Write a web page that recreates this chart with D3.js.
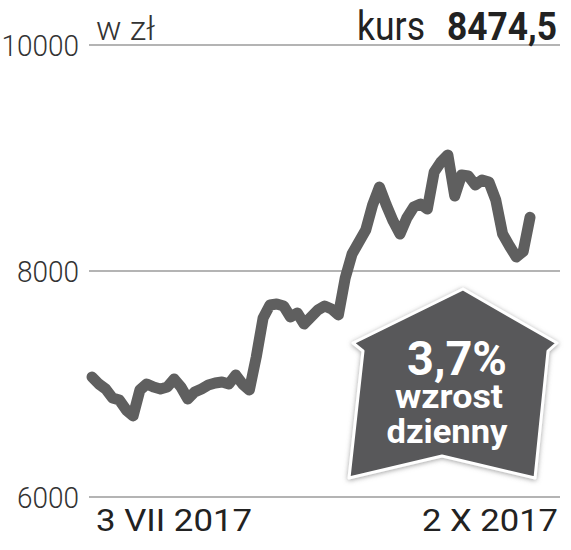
<!DOCTYPE html>
<html>
<head>
<meta charset="utf-8">
<script src="https://cdn.jsdelivr.net/npm/d3@7"></script>
<style>
  body { margin: 0; background: #fff; }
  svg { display: block; }
  text { font-family: Roboto, "Liberation Sans", sans-serif; }
</style>
</head>
<body>
<figure id="chart" style="margin:0"></figure>
<script>
// kurs, 3 VII 2017 - 2 X 2017 (sesje)
var values = [7062, 7000, 6956, 6876, 6858, 6770, 6717, 6947, 7000, 6973,
              6956, 6973, 7044, 6973, 6867, 6929, 6956, 6991, 7009, 7018,
              7000, 7080, 7000, 6947, 7239, 7584, 7699, 7708, 7690, 7593,
              7628, 7531, 7593, 7655, 7690, 7664, 7611, 7938, 8150, 8257,
              8363, 8584, 8743, 8584, 8442, 8327, 8469, 8566, 8593, 8549,
              8876, 8965, 9027, 8664, 8850, 8841, 8761, 8805, 8788, 8628,
              8327, 8221, 8124, 8172, 8474.5];
var yTicks = [6000, 8000, 10000];
var xLabels = ["3 VII 2017", "2 X 2017"];
var unitLabel = "w zł";
var lastLabel = "kurs";
var lastValue = "8474,5";
var badgeLines = ["3,7%", "wzrost", "dzienny"];

var w = 571, h = 550;

var svg = d3.select("#chart")
            .append("svg")
            .attr("width", w)
            .attr("height", h);

var x = d3.scaleLinear()
          .domain([0, values.length - 1])
          .range([92, 530]);

var y = d3.scaleLinear()
          .domain([6000, 10000])
          .range([497, 45]);

// gridlines
svg.append("g")
   .selectAll("line")
   .data(yTicks)
   .enter()
   .append("line")
     .attr("x1", 89)
     .attr("x2", 560)
     .attr("y1", d => y(d))
     .attr("y2", d => y(d))
     .attr("stroke", "#b4b4b4")
     .attr("stroke-width", 2);

// y tick labels
svg.append("g")
   .selectAll("text")
   .data(yTicks)
   .enter()
   .append("text")
     .attr("x", 79)
     .attr("y", d => y(d) + 11)
     .attr("text-anchor", "end")
     .attr("font-weight", 300)
     .attr("font-size", 30)
     .attr("textLength", d => String(d).length * 15.5)
     .attr("lengthAdjust", "spacingAndGlyphs")
     .attr("fill", "#333")
     .text(d => d);

// header
svg.append("text")
   .attr("x", 96).attr("y", 40)
   .attr("font-weight", 300)
   .attr("font-size", 33)
   .attr("textLength", 59)
   .attr("lengthAdjust", "spacingAndGlyphs")
   .attr("fill", "#333")
   .text(unitLabel);

svg.append("text")
   .attr("x", 357).attr("y", 40)
   .attr("font-size", 40)
   .attr("fill", "#222")
   .attr("textLength", 68)
   .attr("lengthAdjust", "spacingAndGlyphs")
   .text(lastLabel);

svg.append("text")
   .attr("x", 447).attr("y", 40)
   .attr("font-size", 38)
   .attr("font-weight", "bold")
   .attr("fill", "#222")
   .attr("textLength", 110)
   .attr("lengthAdjust", "spacingAndGlyphs")
   .text(lastValue);

// x labels
svg.append("text")
   .attr("x", 96).attr("y", 531)
   .attr("font-size", 32)
   .attr("fill", "#222")
   .attr("textLength", 156)
   .attr("lengthAdjust", "spacingAndGlyphs")
   .text(xLabels[0]);

svg.append("text")
   .attr("x", 558).attr("y", 531)
   .attr("text-anchor", "end")
   .attr("font-size", 32)
   .attr("fill", "#222")
   .attr("textLength", 136)
   .attr("lengthAdjust", "spacingAndGlyphs")
   .text(xLabels[1]);

// line
var line = d3.line()
             .x((d, i) => x(i))
             .y(d => y(d));

svg.append("path")
   .datum(values)
   .attr("d", line)
   .attr("fill", "none")
   .attr("stroke", "#5f5f5f")
   .attr("stroke-width", 11)
   .attr("stroke-linejoin", "round")
   .attr("stroke-linecap", "round");

// badge
var defs = svg.append("defs");
var filter = defs.append("filter")
                 .attr("id", "glow")
                 .attr("x", "-20%").attr("y", "-20%")
                 .attr("width", "140%").attr("height", "140%");
filter.append("feDropShadow")
      .attr("dx", 0).attr("dy", 1)
      .attr("stdDeviation", 2.5)
      .attr("flood-color", "#777")
      .attr("flood-opacity", 0.7);

var badge = [[463, 289], [557, 343], [548, 351], [535, 478], [442, 456],
             [349, 478], [363, 351], [353, 343]];

svg.append("path")
   .attr("d", "M" + badge.join("L") + "Z")
   .attr("fill", "#58585a")
   .attr("stroke", "#fff")
   .attr("stroke-width", 3)
   .attr("stroke-linejoin", "round")
   .attr("filter", "url(#glow)");

var badgeText = [
  {x: 457, y: 375, size: 48, len: 100},
  {x: 449, y: 408, size: 34, len: 108},
  {x: 447, y: 443, size: 34, len: 121}
];

svg.append("g")
   .selectAll("text")
   .data(badgeLines)
   .enter()
   .append("text")
     .attr("x", (d, i) => badgeText[i].x)
     .attr("y", (d, i) => badgeText[i].y)
     .attr("text-anchor", "middle")
     .attr("font-weight", "bold")
     .attr("font-size", (d, i) => badgeText[i].size)
     .attr("textLength", (d, i) => badgeText[i].len)
     .attr("lengthAdjust", "spacingAndGlyphs")
     .attr("fill", "#fff")
     .text(d => d);
</script>
</body>
</html>
